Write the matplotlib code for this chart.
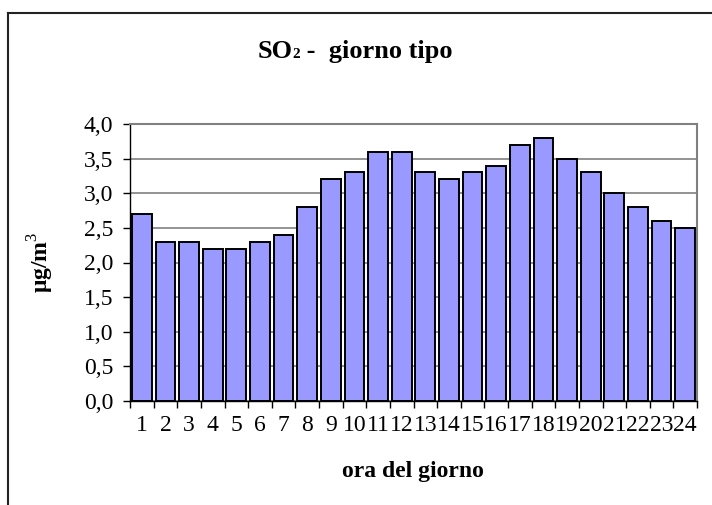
import matplotlib.pyplot as plt
from matplotlib.lines import Line2D
from matplotlib.ticker import FuncFormatter

# hourly mean SO2 concentration, typical day
ore = list(range(1, 25))
so2 = [2.7, 2.3, 2.3, 2.2, 2.2, 2.3, 2.4, 2.8, 3.2, 3.3, 3.6, 3.6,
       3.3, 3.2, 3.3, 3.4, 3.7, 3.8, 3.5, 3.3, 3.0, 2.8, 2.6, 2.5]
y_ticks = [0.0, 0.5, 1.0, 1.5, 2.0, 2.5, 3.0, 3.5, 4.0]

plt.rcParams['font.family'] = ['Liberation Serif', 'DejaVu Serif']
plt.rcParams['mathtext.fontset'] = 'custom'
plt.rcParams['mathtext.rm'] = 'Liberation Serif'

fig = plt.figure(figsize=(7.12, 5.05), dpi=100)
ax = fig.add_axes([130 / 712, 1 - 401 / 505, 567 / 712, 277 / 505])

ax.bar(ore, so2, width=0.84, color='#9999FF', edgecolor='black', linewidth=1.4, zorder=2)

ax.set_xlim(0.5, 24.5)
ax.set_ylim(0, 4.0)
ax.set_yticks(y_ticks)
ax.yaxis.set_major_formatter(FuncFormatter(lambda v, p: f"{v:.1f}".replace('.', ',')))
ax.grid(axis='y', color='#808080', linewidth=1.2, zorder=0)
ax.set_axisbelow(True)

# ticks between categories, labels at the centres
ax.set_xticks([i + 0.5 for i in range(0, 25)])
ax.set_xticklabels([])
ax.set_xticks(ore, minor=True)
ax.set_xticklabels([str(o) for o in ore], minor=True)
ax.tick_params(axis='x', which='minor', length=0, pad=10, labelsize=17)
ax.tick_params(axis='x', which='major', direction='out', length=5, width=1)
ax.tick_params(axis='y', direction='out', length=5, width=1, labelsize=17, pad=7)

for s in ['top', 'right']:
    ax.spines[s].set_color('#808080')
    ax.spines[s].set_linewidth(1.5)
for s in ['left', 'bottom']:
    ax.spines[s].set_color('black')
    ax.spines[s].set_linewidth(1)

# title built from pieces so the "2" stays small on the baseline
ty = 1 - 58 / 505
t1 = fig.text(258 / 712, ty, "SO", ha='left', va='baseline', fontsize=19, fontweight='bold')
fig.canvas.draw()
x1 = t1.get_window_extent().x1 - 1
t2 = fig.text(x1 / 712, ty, "2", ha='left', va='baseline', fontsize=11, fontweight='bold')
fig.canvas.draw()
x2 = t2.get_window_extent().x1
fig.text(x2 / 712, ty, " -  giorno tipo", ha='left', va='baseline', fontsize=19, fontweight='bold')

fig.text(0.057, 0.48, "μg/m$^{3}$", rotation=90, ha='center', va='center',
         fontsize=17, fontweight='bold')
fig.text(413 / 712, 1 - 472 / 505, "ora del giorno", ha='center', va='center',
         fontsize=17, fontweight='bold')

# outer chart border (cut by the image edge on the right and bottom)
bx, by = 8 / 712, 1 - 13 / 505
fig.add_artist(Line2D([bx, bx], [0, by], color='#222222', linewidth=1.5))
fig.add_artist(Line2D([bx, 1], [by, by], color='#222222', linewidth=1.5))

fig.savefig('out.png', dpi=100)
